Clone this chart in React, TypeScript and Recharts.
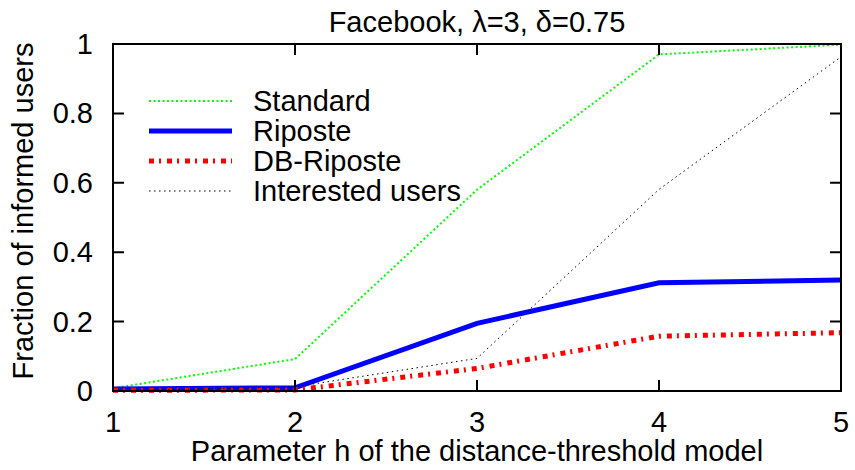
import React from "react";
import { LineChart, Line, XAxis, YAxis, Legend } from "recharts";

// h values of the distance-threshold model
const hValues = [1, 2, 3, 4, 5];

// fraction of informed users per series
const standard = [0.008, 0.092, 0.58, 0.97, 0.998];
const riposte = [0.006, 0.009, 0.195, 0.312, 0.32];
const dbRiposte = [0.002, 0.003, 0.065, 0.158, 0.168];
const interested = [0.0, 0.012, 0.094, 0.581, 0.963];

const xTicks = [1, 2, 3, 4, 5];
const yTicks = [0, 0.2, 0.4, 0.6, 0.8, 1];

const data = hValues.map((h, i) => ({
  h,
  standard: standard[i],
  riposte: riposte[i],
  dbRiposte: dbRiposte[i],
  interested: interested[i],
}));

const SERIES = [
  { key: "standard", name: "Standard", color: "#00ff00", width: 2, dash: "2 2.5" },
  { key: "riposte", name: "Riposte", color: "#0000ff", width: 5, dash: undefined },
  { key: "dbRiposte", name: "DB-Riposte", color: "#ff0000", width: 5, dash: "5 5 2 6" },
  { key: "interested", name: "Interested users", color: "#000000", width: 1, dash: "1.5 3.5" },
];

// plot box (must agree with the chart margins / axis sizes below)
const W = 855;
const H = 470;
const PLOT_L = 113;
const PLOT_T = 44;
const PLOT_W = 728;
const PLOT_H = 347;

const FONT = "'Liberation Sans', Arial, Helvetica, sans-serif";
const FS = 29;
const TICK = 11;

const Txt = ({ x, y, anchor = "middle", children }: any) => (
  <text x={x} y={y} textAnchor={anchor} fontFamily={FONT} fontSize={FS} fill="#000">
    {children}
  </text>
);

const BottomTick = ({ x, y, payload }: any) => (
  <Txt x={x} y={y + 41}>{payload.value}</Txt>
);

const LeftTick = ({ x, y, payload }: any) => (
  <Txt x={x - 20} y={y + 10} anchor="end">{payload.value}</Txt>
);

const renderLegend = ({ payload }: any) => {
  const items = [...(payload || [])].sort(
    (a: any, b: any) =>
      SERIES.findIndex((s) => s.key === a.dataKey) - SERIES.findIndex((s) => s.key === b.dataKey)
  );
  return (
    <svg width={340} height={120}>
      {items.map((entry: any, i: number) => {
        const s = SERIES.find((d) => d.key === entry.dataKey) || SERIES[i];
        const cy = 15 + i * 30;
        return (
          <g key={s.key}>
            <path
              d={`M4,${cy}H87`}
              stroke={s.color}
              strokeWidth={s.width}
              strokeDasharray={s.dash}
            />
            <Txt x={108} y={cy + 10} anchor="start">
              {entry.value}
            </Txt>
          </g>
        );
      })}
    </svg>
  );
};

// gnuplot-style frame with inward ticks on all four sides, drawn on top
function Frame() {
  const xPos = (v: number) => PLOT_L + ((v - xTicks[0]) / (xTicks[xTicks.length - 1] - xTicks[0])) * PLOT_W;
  const yPos = (v: number) => PLOT_T + PLOT_H - ((v - yTicks[0]) / (yTicks[yTicks.length - 1] - yTicks[0])) * PLOT_H;
  const bottom = PLOT_T + PLOT_H;
  const right = PLOT_L + PLOT_W;
  let d = "";
  xTicks.slice(1, -1).forEach((t) => {
    const x = xPos(t);
    d += `M${x},${bottom}V${bottom - TICK}M${x},${PLOT_T}V${PLOT_T + TICK}`;
  });
  yTicks.slice(1, -1).forEach((t) => {
    const y = yPos(t);
    d += `M${PLOT_L},${y}H${PLOT_L + TICK}M${right},${y}H${right - TICK}`;
  });
  return (
    <svg
      width={W}
      height={H}
      style={{ position: "absolute", left: 0, top: 0, pointerEvents: "none" }}
    >
      <rect x={PLOT_L} y={PLOT_T} width={PLOT_W} height={PLOT_H} fill="none" stroke="#000" strokeWidth={2} />
      <path d={d} fill="none" stroke="#000" strokeWidth={2} />
    </svg>
  );
}

export default function App() {
  return (
    <div style={{ position: "absolute", left: 0, top: 0, width: W, height: H }}>
      <LineChart
        width={W}
        height={H}
        data={data}
        margin={{ top: PLOT_T, right: W - PLOT_L - PLOT_W, bottom: 0, left: 0 }}
      >
        <XAxis
          dataKey="h"
          type="number"
          domain={[1, 5]}
          ticks={xTicks}
          interval={0}
          height={H - PLOT_T - PLOT_H}
          axisLine={false}
          tickLine={false}
          tickSize={0}
          tickMargin={0}
          tick={<BottomTick />}
          label={{
            content: ({ viewBox }: any) => (
              <g>
                <Txt x={viewBox.x + viewBox.width / 2} y={viewBox.y + 70}>
                  Parameter h of the distance-threshold model
                </Txt>
                <Txt x={viewBox.x + viewBox.width / 2} y={PLOT_T - 12}>
                  Facebook, λ=3, δ=0.75
                </Txt>
              </g>
            ),
          }}
        />
        <YAxis
          type="number"
          domain={[0, 1]}
          ticks={yTicks}
          interval={0}
          width={PLOT_L}
          axisLine={false}
          tickLine={false}
          tickSize={0}
          tickMargin={0}
          tick={<LeftTick />}
        />
        <Legend
          layout="vertical"
          align="center"
          verticalAlign="middle"
          content={renderLegend}
          wrapperStyle={{ left: 145, top: 86, width: 340, height: 120 }}
        />
        {SERIES.map((s) => (
          <Line
            key={s.key}
            type="linear"
            dataKey={s.key}
            name={s.name}
            stroke={s.color}
            strokeWidth={s.width}
            strokeDasharray={s.dash}
            dot={false}
            activeDot={false}
            isAnimationActive={false}
          />
        ))}
      </LineChart>
      <Frame />
      {/* rotated y-axis title kept outside the svg */}
      <div
        style={{
          position: "absolute",
          left: 23 - 200,
          top: 211 - 17,
          width: 400,
          height: 34,
          lineHeight: "34px",
          textAlign: "center",
          fontFamily: FONT,
          fontSize: FS,
          color: "#000",
          transform: "rotate(-90deg)",
          whiteSpace: "nowrap",
        }}
      >
        Fraction of informed users
      </div>
    </div>
  );
}
